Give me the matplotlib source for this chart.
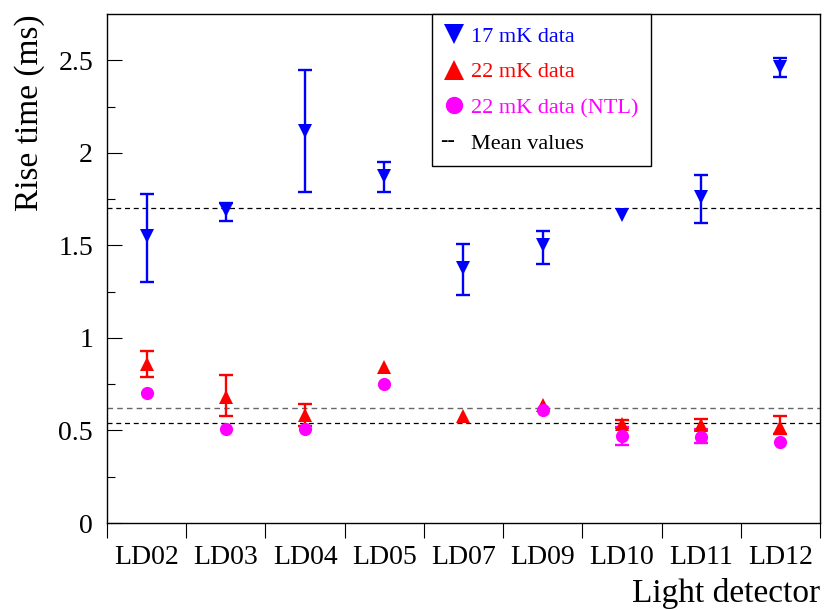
import numpy as np
import matplotlib

matplotlib.use("Agg")
import matplotlib.pyplot as plt
from matplotlib.lines import Line2D
from matplotlib.text import Text
from matplotlib.legend_handler import HandlerBase

plt.rcParams["font.family"] = ["Liberation Serif", "DejaVu Serif"]

detectors = ["LD02", "LD03", "LD04", "LD05", "LD07", "LD09", "LD10", "LD11", "LD12"]

# 17 mK data
rt_17 = [1.55, 1.69, 2.12, 1.875, 1.38, 1.50, 1.665, 1.76, 2.465]
err_17_up = [0.23, 0.04, 0.33, 0.075, 0.13, 0.08, 0.0, 0.12, 0.045]
err_17_dn = [0.25, 0.06, 0.33, 0.085, 0.15, 0.10, 0.0, 0.14, 0.055]

# 22 mK data
rt_22 = [0.86, 0.68, 0.585, 0.845, 0.58, 0.64, 0.535, 0.53, 0.52]
err_22_up = [0.07, 0.12, 0.06, 0.0, 0.0, 0.0, 0.02, 0.03, 0.06]
err_22_dn = [0.07, 0.10, 0.06, 0.0, 0.0, 0.0, 0.02, 0.03, 0.04]

# 22 mK data (NTL), LD07 missing
rt_ntl = [0.70, 0.51, 0.51, 0.75, np.nan, 0.61, 0.47, 0.465, 0.44]
err_ntl_up = [0.0, 0.0, 0.0, 0.0, 0.0, 0.0, 0.05, 0.045, 0.0]
err_ntl_dn = [0.0, 0.0, 0.0, 0.0, 0.0, 0.0, 0.05, 0.035, 0.0]

mean_17 = 1.70
mean_22 = 0.62
mean_ntl = 0.54


class DashText(HandlerBase):
    # legend key drawn as the text "--"
    def create_artists(self, legend, orig_handle, xdescent, ydescent,
                       width, height, fontsize, trans):
        t = Text(-xdescent - 3, -ydescent + height / 2, "--", fontsize=fontsize,
                 ha="left", va="center", color="black", transform=trans)
        return [t]


def draw_series(ax, x, y, up, dn, marker, color, ms):
    y = np.asarray(y, float)
    up = np.asarray(up, float)
    dn = np.asarray(dn, float)
    has_err = (up > 0) | (dn > 0)
    ax.errorbar(x[has_err], y[has_err], yerr=[dn[has_err], up[has_err]], fmt="none",
                ecolor=color, elinewidth=1.7, capsize=4.8, capthick=1.7, zorder=3)
    ax.plot(x, y, ls="none", marker=marker, color=color, ms=ms, mew=0, zorder=4)


fig = plt.figure(figsize=(8.25, 6.1), dpi=100)
ax = fig.add_axes([0.1297, 0.1426, 0.8642, 0.8344])

x = np.arange(len(detectors)) + 0.5

ax.axhline(mean_17, color="black", ls=(0, (4, 3)), lw=0.9, zorder=1)
ax.axhline(mean_22, color="#666666", ls=(0, (4, 3)), lw=1.0, zorder=1)
ax.axhline(mean_ntl, color="black", ls=(0, (4, 3)), lw=0.9, zorder=1)

draw_series(ax, x, rt_17, err_17_up, err_17_dn, "v", "#0000ff", 10)
draw_series(ax, x, rt_22, err_22_up, err_22_dn, "^", "#ff0000", 10)
draw_series(ax, x, rt_ntl, err_ntl_up, err_ntl_dn, "o", "#ff00ff", 9.5)

ax.set_xlim(0, len(detectors))
ax.set_ylim(0, 2.75)

# x ticks at bin edges, labels at bin centres
ax.set_xticks(np.arange(len(detectors) + 1))
ax.set_xticklabels([])
ax.set_xticks(x, minor=True)
ax.set_xticklabels(detectors, minor=True)
ax.tick_params(axis="x", which="major", direction="out", length=11, width=0.8)
ax.tick_params(axis="x", which="minor", length=0, pad=16, labelsize=20)

ax.set_yticks(np.arange(0, 2.51, 0.5))
ax.set_yticklabels(["0", "0.5", "1", "1.5", "2", "2.5"])
ax.set_yticks(np.arange(0.25, 2.75, 0.5), minor=True)
ax.tick_params(axis="y", which="major", direction="in", length=11, width=0.8,
               pad=10, labelsize=20)
ax.tick_params(axis="y", which="minor", direction="in", length=6, width=0.8)

for s in ax.spines.values():
    s.set_linewidth(1.0)

ax.set_ylabel("Rise time (ms)", fontsize=24, loc="top")
ax.yaxis.set_label_coords(-0.087, 1.0)
ax.set_xlabel("Light detector", fontsize=24, loc="right")
ax.xaxis.set_label_coords(1.0, -0.155)
ax.xaxis.label.set_va("baseline")

dash_key = Line2D([], [])
handles = [
    Line2D([], [], ls="none", marker="v", color="#0000ff", ms=14, mew=0),
    Line2D([], [], ls="none", marker="^", color="#ff0000", ms=14, mew=0),
    Line2D([], [], ls="none", marker="o", color="#ff00ff", ms=12.5, mew=0),
    dash_key,
]
labels = ["17 mK data", "22 mK data", "22 mK data (NTL)", "Mean values"]
leg = ax.legend(handles, labels, loc="upper left", bbox_to_anchor=(0.456, 1.0),
                borderaxespad=0, fontsize=16, frameon=True, fancybox=False,
                edgecolor="black", framealpha=1, handlelength=0.9,
                handletextpad=0.3, labelspacing=0.68, borderpad=0.55,
                labelcolor=["#0000ff", "#ff0000", "#ff00ff", "black"],
                handler_map={dash_key: DashText()})
leg.get_frame().set_linewidth(1.0)

fig.savefig("out.png", dpi=100)
